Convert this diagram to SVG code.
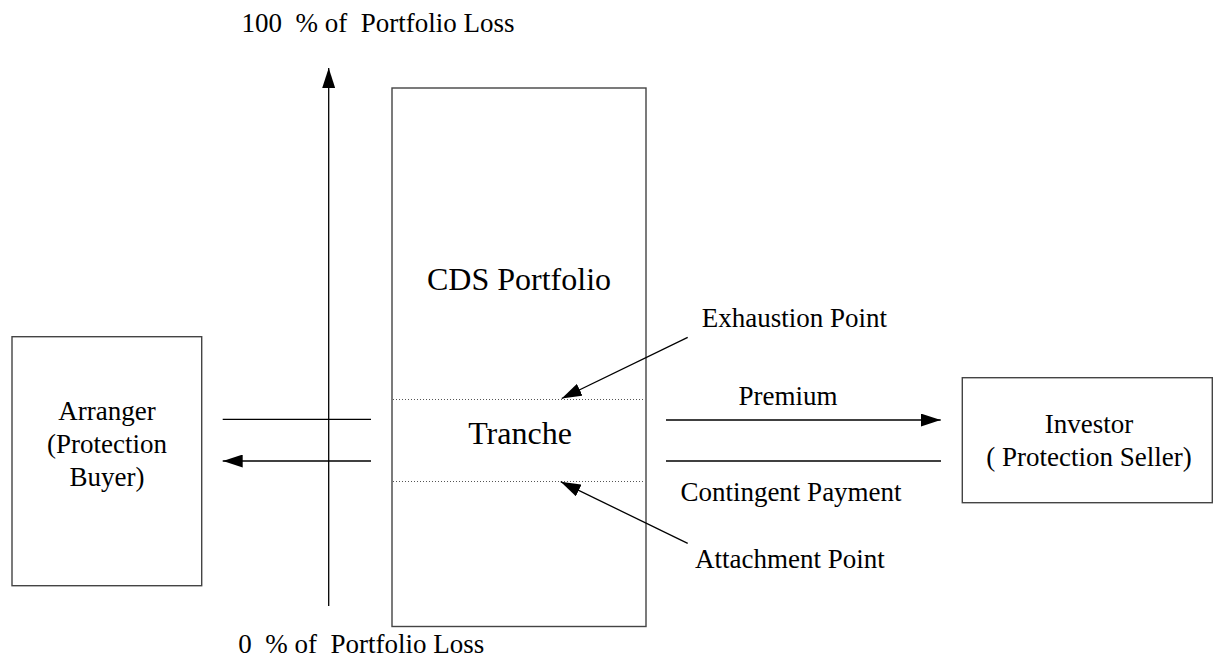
<svg xmlns="http://www.w3.org/2000/svg" width="1214" height="658" viewBox="0 0 1214 658">
<defs>
<marker id="ah" markerUnits="userSpaceOnUse" markerWidth="20" markerHeight="13" refX="20" refY="6.5" orient="auto">
<path d="M0,0 L20,6.5 L0,13 z" fill="#000"/>
</marker>
<style>
text{font-family:"Liberation Serif","Times New Roman",serif;font-size:27px;fill:#000}
.big{font-size:32px}
.box{fill:#fff;stroke:#444;stroke-width:1.4}
.ln{stroke:#000;stroke-width:1.3;fill:none}
.dot{stroke:#555;stroke-width:1.2;stroke-dasharray:1 2;fill:none}
.m{text-anchor:middle}
</style>
</defs>
<rect width="1214" height="658" fill="#fff"/>
<g id="cds-portfolio">
<rect class="box" x="392" y="88" width="254" height="538.5"/>
<text class="big m" x="519" y="290">CDS Portfolio</text>
<line class="dot" x1="393" y1="399.5" x2="645" y2="399.5"/>
<line class="dot" x1="393" y1="481.5" x2="645" y2="481.5"/>
<text class="big m" x="520" y="444">Tranche</text>
</g>
<g id="arranger">
<rect class="box" x="12" y="336.7" width="189.7" height="249"/>
<text class="m" x="107" y="420">Arranger</text>
<text class="m" x="107" y="453">(Protection</text>
<text class="m" x="107" y="486">Buyer)</text>
</g>
<g id="investor">
<rect class="box" x="962.3" y="377.7" width="250" height="125"/>
<text class="m" x="1089" y="432.7">Investor</text>
<text class="m" x="1089" y="466" xml:space="preserve">( Protection Seller)</text>
</g>
<g id="labels">
<text x="241.5" y="32" xml:space="preserve">100  % of  Portfolio Loss</text>
<text x="238.3" y="653" xml:space="preserve">0  % of  Portfolio Loss</text>
<text class="m" x="788" y="405">Premium</text>
<text class="m" x="791" y="501">Contingent Payment</text>
<text x="701.7" y="326.7">Exhaustion Point</text>
<text x="695" y="567.7">Attachment Point</text>
</g>
<g id="connectors">
<line class="ln" x1="328.7" y1="606" x2="328.7" y2="68" marker-end="url(#ah)"/>
<line class="ln" x1="222.7" y1="419.3" x2="371" y2="419.3"/>
<line class="ln" x1="371" y1="461" x2="222.7" y2="461" marker-end="url(#ah)"/>
<line class="ln" x1="666" y1="420" x2="940.7" y2="420" marker-end="url(#ah)"/>
<line class="ln" x1="666" y1="461" x2="941" y2="461"/>
<line class="ln" x1="687.7" y1="337.3" x2="561.7" y2="398.5" marker-end="url(#ah)"/>
<line class="ln" x1="687.7" y1="543.3" x2="560.7" y2="481.7" marker-end="url(#ah)"/>
</g>
</svg>
